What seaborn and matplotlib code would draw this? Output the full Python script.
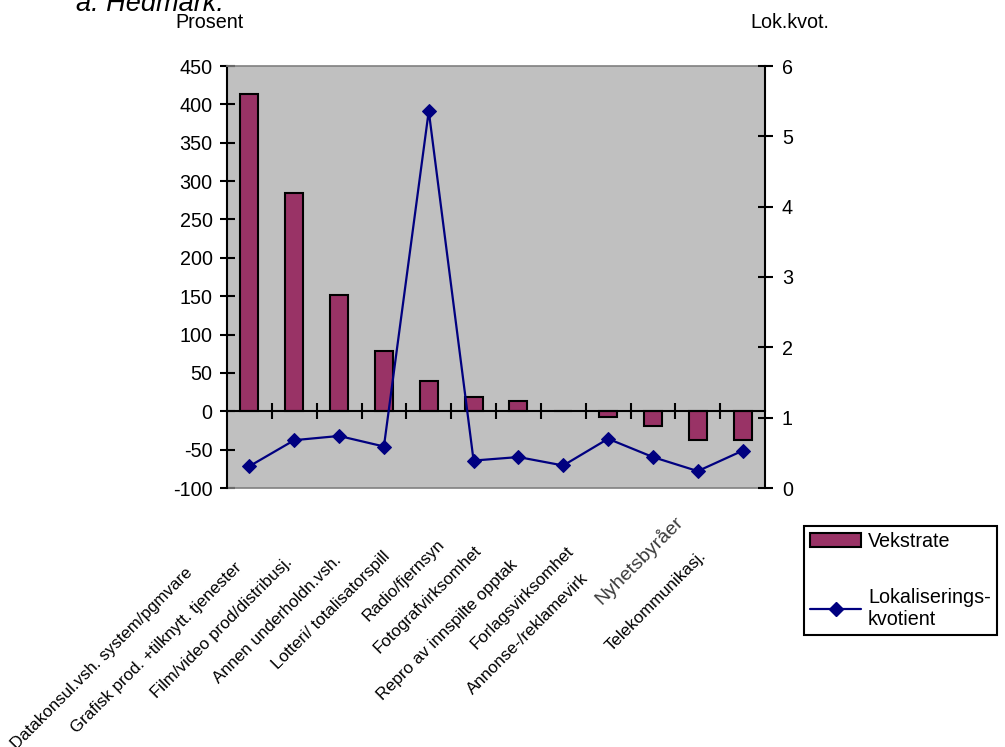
import numpy as np
import pandas as pd
import matplotlib
matplotlib.use("Agg")
import matplotlib.pyplot as plt
from matplotlib import font_manager
import seaborn as sns
from matplotlib.patches import Patch
from matplotlib.lines import Line2D

# ---------------- data ----------------
categories = [
    "Datakonsul.vsh. system/pgmvare",
    "Grafisk prod. +tilknytt. tjenester",
    "Film/video prod/distribusj.",
    "Annen underholdn.vsh.",
    "Lotteri/ totalisatorspill",
    "Radio/fjernsyn",
    "Fotografvirksomhet",
    "Repro av innspilte opptak",
    "Forlagsvirksomhet",
    "Annonse-/reklamevirk",
    "Nyhetsbyråer",
    "Telekommunikasj.",
]
vekstrate = [413, 284, 151, 78, 39, 18, 13, 0, -8, -19, -37, -37]
lok_kvot = [0.31, 0.68, 0.74, 0.59, 5.36, 0.39, 0.44, 0.32, 0.70, 0.44, 0.24, 0.53]
left_ticks = [-100, -50, 0, 50, 100, 150, 200, 250, 300, 350, 400, 450]
right_ticks = [0, 1, 2, 3, 4, 5, 6]
legend_labels = ["Vekstrate", "Lokaliserings-\nkvotient"]

# ---------------- layout (pixels) ----------------
W, H = 1005, 747
L, R, T, B = 227, 765, 66, 488
label_centers = [(102, 658), (157, 648), (222, 628), (277, 619), (331, 610),
                 (404, 580), (428, 599), (447, 630), (522, 598), (528, 634),
                 (639, 560), (656, 601)]

BAR = "#993366"
LINE = "#000080"
BG = "#C0C0C0"
FS = 14.2

sns.set_theme(style="white")
plt.rcParams["font.family"] = ["Liberation Sans", "DejaVu Sans"]
for k in ["text.color", "axes.labelcolor", "xtick.color", "ytick.color"]:
    plt.rcParams[k] = "black"

installed = {f.name for f in font_manager.fontManager.ttflist}
if "Liberation Sans Narrow" in installed:
    XFAM, XFS = ["Liberation Sans Narrow", "DejaVu Sans"], 14.6
else:
    XFAM, XFS = ["Liberation Sans", "DejaVu Sans"], 12.2

fig = plt.figure(figsize=(W / 100, H / 100), dpi=100)
ax = fig.add_axes([L / W, 1 - B / H, (R - L) / W, (B - T) / H])
ax.set_facecolor(BG)

df = pd.DataFrame({"kat": categories, "vekst": vekstrate,
                   "lok": lok_kvot, "pos": np.arange(len(categories))})

sns.barplot(data=df, x="kat", y="vekst", color=BAR, saturation=1, width=0.4,
            edgecolor="black", linewidth=1.5, ax=ax, zorder=2)
ax.set_xlim(-0.5, len(categories) - 0.5)
ax.set_ylim(-100, 450)
ax.set_yticks(left_ticks)
ax.set_yticklabels([str(v) for v in left_ticks])
ax.set_xlabel("")
ax.set_ylabel("")

ax.spines["top"].set_color("#808080")
ax.spines["top"].set_linewidth(1.2)
ax.spines["right"].set_visible(False)
ax.spines["left"].set_color("black")
ax.spines["left"].set_linewidth(1.5)
ax.spines["bottom"].set_position(("data", 0))
ax.spines["bottom"].set_color("black")
ax.spines["bottom"].set_linewidth(1.5)
ax.spines["bottom"].set_zorder(3)
# grey plot-area border at the bottom
ax.add_line(Line2D([0, 1], [0, 0], transform=ax.transAxes, color="#808080",
                   lw=1.2, clip_on=False))

ax.tick_params(axis="y", direction="inout", length=10.8, width=1.5,
               color="black", labelcolor="black", labelsize=FS, pad=5.0,
               left=True)
ax.tick_params(axis="x", direction="inout", length=11.5, width=1.5,
               color="black", bottom=True)

ax2 = ax.twinx()
sns.lineplot(data=df, x="pos", y="lok", ax=ax2, color=LINE, marker="D",
             markersize=7.5, markeredgecolor=LINE, linewidth=1.6, legend=False)
ax2.set_ylim(0, 6)
ax2.set_yticks(right_ticks)
ax2.set_yticklabels([str(v) for v in right_ticks])
ax2.set_xlabel("")
ax2.set_ylabel("")
ax2.set_xlim(-0.5, len(categories) - 0.5)
for s in ["top", "left", "bottom"]:
    ax2.spines[s].set_visible(False)
ax2.spines["right"].set_color("black")
ax2.spines["right"].set_linewidth(1.5)
ax2.tick_params(axis="y", direction="inout", length=10.8, width=1.5,
                color="black", labelcolor="black", labelsize=FS, pad=6.8,
                right=True)
ax.set_xticks(np.arange(0.5, len(categories) - 1, 1))
ax.set_xticklabels([])

# titles / axis captions
fig.text(76 / W, 1 - 11 / H, "a. Hedmark.", style="italic", fontsize=19.5,
         ha="left", va="baseline")
fig.text(175 / W, 1 - 28 / H, "Prosent", fontsize=FS, ha="left", va="baseline")
fig.text(750 / W, 1 - 28 / H, "Lok.kvot.", fontsize=FS, ha="left", va="baseline")

# rotated category labels
for lab, (cx, cy) in zip(categories, label_centers):
    kw = dict(fontsize=XFS, color="black", family=XFAM)
    if lab == "Nyhetsbyråer":
        kw = dict(fontsize=XFS * 1.15, color="#3a3a3a", family=XFAM)
    fig.text(cx / W, 1 - cy / H, lab, rotation=45, rotation_mode="anchor",
             ha="center", va="center", **kw)

# legend
handles = [Patch(facecolor=BAR, edgecolor="black", linewidth=1.5),
           Line2D([], [], color=LINE, marker="D", markersize=7.5, lw=1.6)]
leg = fig.legend(handles, legend_labels, loc="upper left",
                 bbox_to_anchor=(804 / W, 1 - 526 / H), borderaxespad=0,
                 frameon=True, fancybox=False, edgecolor="black",
                 framealpha=1, fontsize=FS, handlelength=2.6,
                 handletextpad=0.35, borderpad=0.3, labelspacing=1.9)
leg.get_frame().set_linewidth(1.5)

fig.savefig("out.png", dpi=100)
